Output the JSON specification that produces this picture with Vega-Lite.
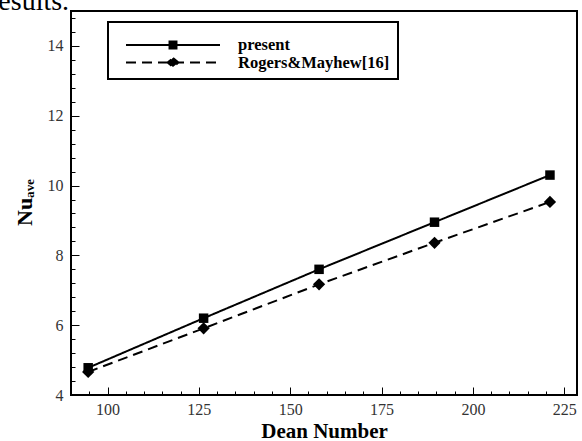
{
  "$schema": "https://vega.github.io/schema/vega-lite/v6.json",
  "width": 506,
  "height": 384,
  "autosize": {"type": "none"},
  "padding": {"left": 71, "top": 11, "right": 5, "bottom": 46},
  "background": "white",
  "title": {"text": "results.", "anchor": "start", "frame": "group", "dx": -82, "dy": 27, "offset": 0, "baseline": "alphabetic", "fontSize": 28, "font": "Liberation Serif", "fontWeight": "normal", "color": "black"},
  "config": {"view": {"stroke": "black", "strokeWidth": 2}, "font": "Liberation Serif"},
  "data": {"values": [
    {"dean": 94.7, "nu": 4.78, "series": "present"},
    {"dean": 126.3, "nu": 6.2, "series": "present"},
    {"dean": 157.9, "nu": 7.6, "series": "present"},
    {"dean": 189.5, "nu": 8.95, "series": "present"},
    {"dean": 221.1, "nu": 10.3, "series": "present"},
    {"dean": 94.7, "nu": 4.66, "series": "Rogers&Mayhew[16]"},
    {"dean": 126.3, "nu": 5.91, "series": "Rogers&Mayhew[16]"},
    {"dean": 157.9, "nu": 7.17, "series": "Rogers&Mayhew[16]"},
    {"dean": 189.5, "nu": 8.36, "series": "Rogers&Mayhew[16]"},
    {"dean": 221.1, "nu": 9.53, "series": "Rogers&Mayhew[16]"}
  ]},
  "resolve": {"axis": {"x": "independent", "y": "independent"}},
  "layer": [
    {
      "mark": {"type": "line", "strokeWidth": 2, "color": "black"},
      "encoding": {
        "x": {"field": "dean", "type": "quantitative",
          "scale": {"domain": [90, 228.5], "nice": false, "zero": false},
          "axis": {
            "orient": "bottom",
            "values": [100, 125, 150, 175, 200, 225], "format": "d",
            "ticks": false, "domain": false, "grid": false,
            "labelFont": "Liberation Serif", "labelFontSize": 16, "labelColor": "#333", "labelPadding": 6,
            "labelFlush": false, "labelOverlap": false,
            "title": "Dean Number", "titleFont": "Liberation Serif", "titleFontSize": 21, "titleFontWeight": "bold",
            "titleColor": "black", "titleY": 42, "titleBaseline": "alphabetic"
          }
        },
        "y": {"field": "nu", "type": "quantitative",
          "scale": {"domain": [4, 15], "nice": false, "zero": false},
          "axis": {
            "orient": "left",
            "values": [4, 6, 8, 10, 12, 14], "format": "d",
            "ticks": false, "domain": false, "grid": false,
            "labelFont": "Liberation Serif", "labelFontSize": 16, "labelColor": "#333", "labelPadding": 8,
            "labelFlush": false, "labelOverlap": false,
            "title": "Nuₐᵥₑ", "titleFont": "Liberation Serif", "titleFontSize": 22, "titleFontWeight": "bold",
            "titleColor": "black", "titleX": -47, "titleY": 191, "titleAngle": 270, "titleAlign": "center", "titleBaseline": "middle"
          }
        },
        "strokeDash": {"field": "series", "type": "nominal",
          "scale": {"domain": ["present", "Rogers&Mayhew[16]"], "range": [[1, 0], [10, 6]]},
          "legend": {
            "orient": "none", "legendX": 37, "legendY": 11,
            "title": " ", "titleFontSize": 4, "titlePadding": 3,
            "symbolSize": 8836, "clipHeight": 16, "rowPadding": 0.5, "padding": 8, "symbolOffset": 9,
            "strokeColor": "black",
            "labelFont": "Liberation Serif", "labelFontSize": 16.5, "labelFontWeight": "bold", "labelColor": "black",
            "labelOffset": 17, "labelLimit": 400,
            "symbolStrokeWidth": 2, "symbolStrokeColor": "black", "symbolFillColor": "black",
            "encode": {
              "legend": {"update": {"strokeWidth": {"value": 2}}},
              "symbols": {"update": {
                "shape": {"signal": "datum.value === 'present' ? 'M-1,0H1M-0.074,-0.074H0.074V0.074H-0.074Z' : 'M-1,0H1M0,-0.095L0.116,0L0,0.095L-0.116,0Z'"},
                "fill": {"value": "black"},
                "stroke": {"value": "black"},
                "size": {"value": 8836}
              }}
            }
          }
        }
      }
    },
    {
      "transform": [{"filter": "datum.series === 'present'"}],
      "mark": {"type": "point", "shape": "square", "filled": true, "color": "black", "opacity": 1, "size": 90},
      "encoding": {
        "x": {"field": "dean", "type": "quantitative",
          "scale": {"domain": [90, 228.5], "nice": false, "zero": false},
          "axis": {
            "orient": "top", "offset": -384,
            "values": [100, 125, 150, 175, 200, 225],
            "labels": false, "domain": false, "grid": false, "title": null,
            "ticks": true, "tickColor": "black", "tickWidth": 1, "tickSize": 8
          }
        },
        "y": {"field": "nu", "type": "quantitative",
          "scale": {"domain": [4, 15], "nice": false, "zero": false},
          "axis": {
            "orient": "right", "offset": -506,
            "values": [4, 6, 8, 10, 12, 14],
            "labels": false, "domain": false, "grid": false, "title": null,
            "ticks": true, "tickColor": "black", "tickWidth": 1, "tickSize": 8
          }
        }
      }
    },
    {
      "transform": [{"filter": "datum.series !== 'present'"}],
      "mark": {"type": "point", "shape": "diamond", "filled": true, "color": "black", "opacity": 1, "size": 150},
      "encoding": {
        "x": {"field": "dean", "type": "quantitative",
          "scale": {"domain": [90, 228.5], "nice": false, "zero": false},
          "axis": {
            "orient": "top", "offset": -384,
            "values": [95,105,110,115,120,130,135,140,145,155,160,165,170,180,185,190,195,205,210,215,220],
            "labels": false, "domain": false, "grid": false, "title": null,
            "ticks": true, "tickColor": "black", "tickWidth": 1, "tickSize": 4
          }
        },
        "y": {"field": "nu", "type": "quantitative",
          "scale": {"domain": [4, 15], "nice": false, "zero": false},
          "axis": {
            "orient": "right", "offset": -506,
            "values": [4.4,4.8,5.2,5.6,6.4,6.8,7.2,7.6,8.4,8.8,9.2,9.6,10.4,10.8,11.2,11.6,12.4,12.8,13.2,13.6,14.4,14.8],
            "labels": false, "domain": false, "grid": false, "title": null,
            "ticks": true, "tickColor": "black", "tickWidth": 1, "tickSize": 4
          }
        }
      }
    }
  ]
}
